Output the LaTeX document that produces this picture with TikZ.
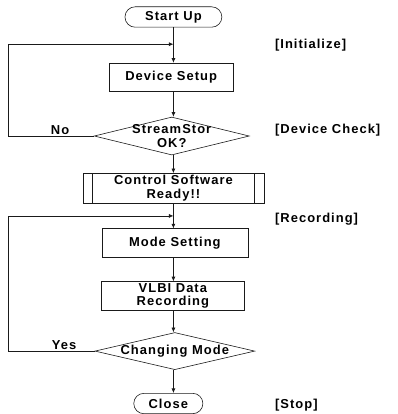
\documentclass[tikz,border=0pt]{standalone}
\usepackage{fontspec}
\setmainfont{Liberation Sans}
\newfontfamily\chartfont[LetterSpace=8,BoldFont={Liberation Sans Bold}]{Liberation Sans}
\usetikzlibrary{arrows.meta,positioning,calc,shapes.geometric,shapes.misc}
\definecolor{ink}{HTML}{1A1A1A}
\tikzset{
  block/.style={draw=ink, rectangle, line width=0.6pt, align=center, inner sep=2pt,
                minimum height=1.02cm},
  term/.style={draw=ink, rounded rectangle, line width=0.6pt, minimum height=0.72cm,
               inner sep=2pt},
  check/.style={draw=ink, diamond, line width=0.6pt, inner sep=0pt},
  arrow/.style={-{Latex[length=1.6mm,width=1.4mm]}, line width=0.6pt, draw=ink},
  tag/.style={anchor=west, inner sep=0pt}
}
\begin{document}
\begin{tikzpicture}[x=1cm,y=1cm,font=\chartfont\fontsize{13}{13.5}\selectfont\bfseries]
    \useasboundingbox (0,0) rectangle (14.04,14.61);

    % main column
    \node[term, minimum width=3.56cm] (start) at (6.12,14.01) {Start Up};
    \coordinate (j1) at (6.12,13.05);
    \node[block, minimum width=4.40cm, minimum height=0.99cm] (setup) at (6.04,11.89) {Device Setup};
    \node[check, minimum width=5.47cm, minimum height=1.34cm,
          label={[align=center,inner sep=0pt]center:StreamStor\\OK?}] (ok) at (6.06,9.81) {};
    \node[block, minimum width=6.39cm] (ready) at (6.12,7.97) {Control Software\\Ready!!};
    \draw[line width=0.6pt,draw=ink] ([xshift=0.35cm]ready.north west) -- ([xshift=0.35cm]ready.south west);
    \draw[line width=0.6pt,draw=ink] ([xshift=-0.35cm]ready.north east) -- ([xshift=-0.35cm]ready.south east);
    \coordinate (j2) at (6.12,6.99);
    \node[block, minimum width=5.15cm] (mode) at (6.17,6.03) {Mode Setting};
    \node[block, minimum width=5.05cm] (rec) at (6.10,4.16) {VLBI Data\\Recording};
    \node[check, minimum width=5.64cm, minimum height=1.31cm,
          label={[inner sep=0pt]center:Changing Mode}] (change) at (6.17,2.22) {};
    \node[term, minimum width=2.58cm] (close) at (5.94,0.37) {Close};

    % flow
    \draw[line width=0.6pt,draw=ink] (start.south -| j1) -- (j1);
    \draw[arrow] (j1) -- (j1 |- setup.north);
    \draw[arrow] (setup.south -| j1) -- (j1 |- ok.north);
    \draw[arrow] (ok.south -| j1) -- (j1 |- ready.north);
    \draw[line width=0.6pt,draw=ink] (ready.south -| j2) -- (j2);
    \draw[arrow] (j2) -- (j2 |- mode.north);
    \draw[arrow] (mode.south -| j2) -- (j2 |- rec.north);
    \draw[arrow] (rec.south -| j2) -- (j2 |- change.north);
    \draw[arrow] (change.south -| j2) -- (j2 |- close.north);

    % loops back
    \draw[arrow] (ok.west) -- (0.28,0 |- ok.west) -- (0.28,0 |- j1) -- (j1);
    \draw[arrow] (change.west) -- (0.28,0 |- change.west) -- (0.28,0 |- j2) -- (j2);
    \node[anchor=south, inner sep=1pt] (no) at (2.12,9.83) {No};
    \node[anchor=south, inner sep=1pt] (yes) at (2.26,2.24) {Yes};

    % stage tags
    \node[tag] (tinit) at (9.70,13.02) {[Initialize]};
    \node[tag] (tdev) at (9.70,10.02) {[Device Check]};
    \node[tag] (trec) at (9.70,6.88) {[Recording]};
    \node[tag] (tstop) at (9.70,0.32) {[Stop]};
\end{tikzpicture}
\end{document}
